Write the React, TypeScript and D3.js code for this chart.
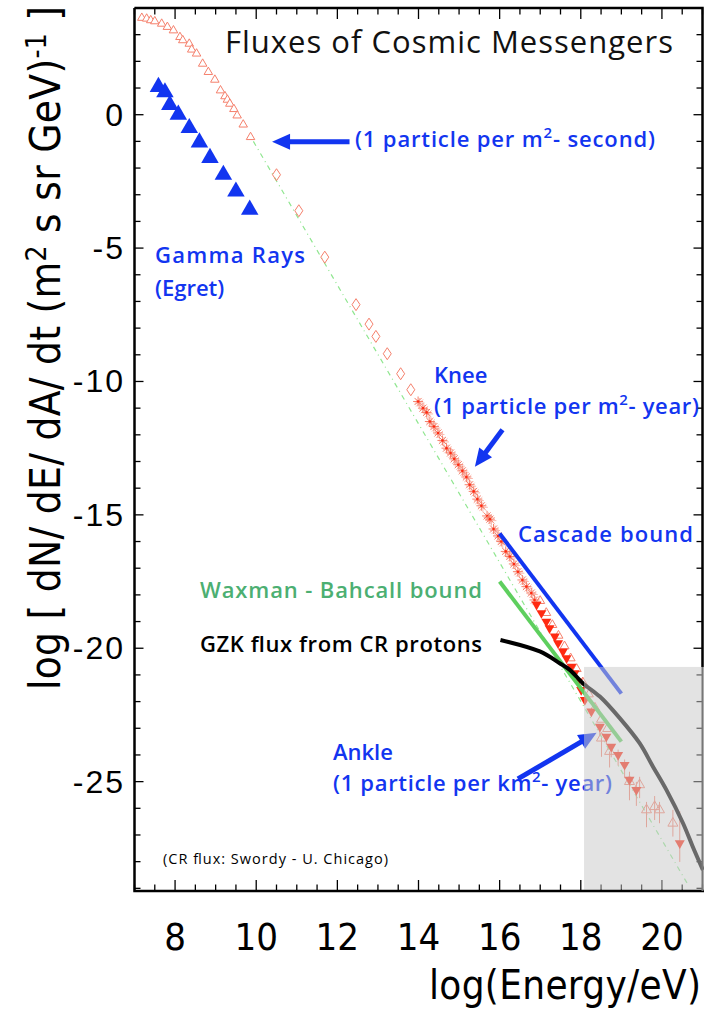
import React from "react";
import * as d3 from "d3";

const W = 704;
const H = 1009;

// ---------- axis ticks ----------
const xTickLabels = [8, 10, 12, 14, 16, 18, 20];
const yTickLabels = [0, -5, -10, -15, -20, -25];

// ---------- data (log E [eV], log flux) ----------
const gammaRays: [number, number][] = [
  [7.59, 1.04], [7.75, 0.84], [7.87, 0.37], [8.08, 0.0], [8.35, -0.5],
  [8.6, -1.04], [8.86, -1.62], [9.19, -2.25], [9.5, -2.88], [9.84, -3.56],
];

const crLowTriangles: [number, number][] = [
  [7.18, 3.63], [7.3, 3.6], [7.4, 3.54], [7.5, 3.5], [7.67, 3.41], [7.81, 3.29],
  [7.96, 3.16], [8.12, 2.91], [8.19, 2.79], [8.35, 2.66], [8.41, 2.44], [8.53, 2.29],
  [8.68, 1.91], [8.82, 1.6], [8.98, 1.31], [9.12, 0.91], [9.23, 0.69], [9.29, 0.56],
  [9.35, 0.41], [9.45, 0.21], [9.53, -0.03], [9.68, -0.37], [9.86, -0.84],
];

const crDiamonds: [number, number][] = [
  [10.5, -2.25], [11.05, -3.6], [11.69, -5.34], [12.46, -7.12], [12.78, -7.85],
  [12.95, -8.31], [13.23, -8.96], [13.56, -9.71], [13.81, -10.31],
];

const crStars: [number, number][] = [
  [13.99, -10.75], [14.11, -11.0], [14.2, -11.16], [14.28, -11.5], [14.38, -11.69],
  [14.48, -11.93], [14.59, -12.21], [14.69, -12.5], [14.79, -12.68], [14.88, -12.9],
  [14.98, -13.12], [15.08, -13.35], [15.18, -13.58], [15.26, -13.87], [15.36, -14.12],
  [15.45, -14.41], [15.55, -14.66], [15.69, -15.04], [15.76, -15.16], [15.85, -15.53],
  [15.96, -15.79], [16.04, -16.0], [16.15, -16.37], [16.25, -16.56], [16.35, -16.84],
  [16.45, -17.13], [16.56, -17.44], [16.66, -17.69], [16.78, -17.93], [16.86, -18.19],
];

const crOverlapOpen: [number, number][] = [
  [16.95, -18.3], [17.1, -18.75], [17.25, -19.2], [17.4, -19.6], [17.55, -20.0],
  [17.7, -20.45], [17.85, -20.85], [18.0, -21.35], [18.15, -21.8], [18.3, -22.3],
  [18.45, -22.75], [18.6, -23.1],
];

// [logE, logFlux, errLow, errHigh]
const crFilledTri: [number, number, number, number][] = [
  [16.91, -18.37, 0, 0], [17.03, -18.68, 0, 0], [17.15, -19.0, 0, 0], [17.23, -19.25, 0, 0],
  [17.36, -19.56, 0, 0], [17.44, -19.81, 0, 0], [17.56, -20.12, 0, 0], [17.65, -20.37, 0, 0],
  [17.77, -20.69, 0, 0], [17.85, -20.93, 0, 0], [17.93, -21.25, 0, 0], [18.01, -21.56, 0, 0],
  [18.1, -21.94, 0, 0], [18.26, -22.37, 0, 0], [18.47, -22.94, 0.3, 0], [18.63, -23.31, 0.3, 0],
  [18.75, -23.69, 0.4, 0], [18.92, -24.0, 0.4, 0.2], [19.08, -24.37, 0.5, 0.2],
  [19.2, -24.93, 0.6, 0.3], [19.37, -25.31, 0.6, 0.3], [20.44, -27.31, 0.7, 1.2],
];

const crHighOpenTri: [number, number, number, number][] = [
  [18.51, -23.37, 0.7, 0], [18.71, -23.87, 0.6, 0], [19.2, -25.0, 0.7, 0.2],
  [19.45, -25.12, 0.5, 0.3], [19.62, -26.06, 0.65, 0.3], [19.82, -25.94, 0.5, 0.4],
  [19.94, -26.06, 0.5, 0.3], [20.27, -26.56, 0.5, 0.5],
];

const crFitLine: [number, number][] = [[9.93, -1.0], [20.63, -28.83]];
const cascadeBound: [number, number][] = [[16.0, -15.7], [19.0, -21.7]];
const waxmanBahcall: [number, number][] = [[16.0, -17.5], [19.0, -23.5]];
const gzkFlux: [number, number][] = [
  [16.02, -19.69], [16.99, -20.12], [17.48, -20.56], [17.73, -20.81], [18.05, -21.31],
  [18.47, -21.81], [18.96, -22.62], [19.45, -23.56], [19.78, -24.44], [20.11, -25.31],
  [20.52, -26.56], [20.76, -27.44], [21.01, -28.31],
];

const grayBox = { x0: 18.08, y0: -20.7 };

const arrows: { tail: [number, number]; tip: [number, number] }[] = [
  { tail: [12.3, -1.01], tip: [10.39, -1.01] },
  { tail: [16.07, -11.81], tip: [15.39, -13.2] },
  { tail: [16.45, -24.9], tip: [18.39, -23.17] },
];

const BLUE = "#1235f0";
const SALMON = "#f5806c";
const RED = "#ff2a12";
const GREEN_LINE = "#5ecf5e";
const GREEN_TEXT = "#4caf72";
const NARROW = "'Liberation Sans Narrow', 'Arial Narrow', 'DejaVu Sans Condensed', sans-serif";
const HUMAN = "'Open Sans', 'Lato', sans-serif";

function upTri(cx: number, cy: number, s: number) {
  return `M${cx},${cy - s * 0.577}L${cx + s / 2},${cy + s * 0.289}L${cx - s / 2},${cy + s * 0.289}Z`;
}
function downTri(cx: number, cy: number, s: number) {
  return `M${cx},${cy + s * 0.577}L${cx + s / 2},${cy - s * 0.289}L${cx - s / 2},${cy - s * 0.289}Z`;
}
function diamond(cx: number, cy: number, w: number, h: number) {
  return `M${cx},${cy - h / 2}L${cx + w / 2},${cy}L${cx},${cy + h / 2}L${cx - w / 2},${cy}Z`;
}
function star(cx: number, cy: number, r: number) {
  let p = "";
  for (let i = 0; i < 4; i++) {
    const a = (i * Math.PI) / 4;
    p += `M${cx - r * Math.cos(a)},${cy - r * Math.sin(a)}L${cx + r * Math.cos(a)},${cy + r * Math.sin(a)}`;
  }
  return p;
}

export default function App() {
  const x = d3.scaleLinear().domain([7, 21]).range([134.5, 702.5]);
  const y = d3.scaleLinear().domain([-29.1, 4]).range([891, 8]);
  const line = d3.line<[number, number]>().x((d) => x(d[0])).y((d) => y(d[1]));
  const smooth = d3
    .line<[number, number]>()
    .x((d) => x(d[0]))
    .y((d) => y(d[1]))
    .curve(d3.curveCatmullRom);

  const [x0, x1] = x.range();
  const yTop = y.range()[1];
  const yBot = y.range()[0];

  const xMinor = d3.range(7, 21.01, 0.5);
  const yMinor = d3.range(-29, 4.01, 1);

  const arrowEls = arrows.map((a, i) => {
    const tx = x(a.tip[0]);
    const ty = y(a.tip[1]);
    const sx = x(a.tail[0]);
    const sy = y(a.tail[1]);
    const L = Math.hypot(tx - sx, ty - sy);
    const ux = (tx - sx) / L;
    const uy = (ty - sy) / L;
    const hl = 18;
    const hw = 8;
    const bx = tx - ux * hl;
    const by = ty - uy * hl;
    const head = `M${tx},${ty}L${bx - uy * hw},${by + ux * hw}L${bx + uy * hw},${by - ux * hw}Z`;
    return (
      <g key={i}>
        <line x1={sx} y1={sy} x2={bx + ux * 2} y2={by + uy * 2} stroke={BLUE} strokeWidth={5} />
        <path d={head} fill={BLUE} />
      </g>
    );
  });

  return (
    <svg
      width={W}
      height={H}
      style={{ position: "absolute", left: 0, top: 0, background: "#fff" }}
    >
      <rect x={0} y={0} width={W} height={H} fill="#fff" />

      {/* ticks */}
      <g stroke="#000" strokeWidth={1.3}>
        {xMinor.map((v) => {
          const major = Math.abs(v % 2) < 1e-6;
          const len = major ? 11 : 6.5;
          return (
            <g key={"xt" + v}>
              <line x1={x(v)} x2={x(v)} y1={yBot} y2={yBot - len} />
              <line x1={x(v)} x2={x(v)} y1={yTop} y2={yTop + len} />
            </g>
          );
        })}
        {yMinor.map((v) => {
          const major = Math.abs(v % 5) < 1e-6;
          const len = major ? 9 : 6;
          return (
            <g key={"yt" + v}>
              <line x1={x0} x2={x0 + len} y1={y(v)} y2={y(v)} />
              <line x1={x1} x2={x1 - len} y1={y(v)} y2={y(v)} />
            </g>
          );
        })}
      </g>

      {/* CR power-law fit */}
      <path
        d={line(crFitLine) || ""}
        fill="none"
        stroke="#8fe68f"
        strokeWidth={1.2}
        strokeDasharray="5 4 1 4"
      />

      {/* gamma rays */}
      {gammaRays.map((d, i) => (
        <path key={"g" + i} d={upTri(x(d[0]), y(d[1]), 17.5)} fill={BLUE} />
      ))}

      {/* cosmic rays low energy open triangles */}
      {crLowTriangles.map((d, i) => (
        <path key={"lt" + i} d={upTri(x(d[0]), y(d[1]), 8.5)} fill="#fff" stroke={SALMON} strokeWidth={1} />
      ))}
      {crDiamonds.map((d, i) => (
        <path key={"dm" + i} d={diamond(x(d[0]), y(d[1]), 8, 12)} fill="none" stroke={SALMON} strokeWidth={1} />
      ))}
      {crStars.map((d, i) => (
        <g key={"st" + i}>
          <path d={star(x(d[0]) + 1.5, y(d[1]) + 1.5, 5)} stroke={SALMON} strokeWidth={0.8} fill="none" opacity={0.7} />
          <path d={star(x(d[0]), y(d[1]), 5)} stroke={SALMON} strokeWidth={1} fill="none" />
          <circle cx={x(d[0])} cy={y(d[1])} r={1.3} fill={RED} />
        </g>
      ))}

      {/* error bars */}
      {[...crFilledTri, ...crHighOpenTri]
        .filter((d) => d[2] > 0 || d[3] > 0)
        .map((d, i) => (
          <line
            key={"eb" + i}
            x1={x(d[0])}
            x2={x(d[0])}
            y1={y(d[1] + d[3])}
            y2={y(d[1] - d[2])}
            stroke={SALMON}
            strokeWidth={1}
          />
        ))}

      {crOverlapOpen.map((d, i) => (
        <path key={"oo" + i} d={upTri(x(d[0]) + 2, y(d[1]) - 2, 9)} fill="none" stroke={SALMON} strokeWidth={1} />
      ))}
      {crHighOpenTri.map((d, i) => (
        <path key={"ho" + i} d={upTri(x(d[0]), y(d[1]), 10)} fill="none" stroke={SALMON} strokeWidth={1} />
      ))}
      {crFilledTri.map((d, i) => (
        <path key={"ft" + i} d={downTri(x(d[0]), y(d[1]), 10)} fill={RED} />
      ))}

      {/* model bounds */}
      <path d={line(cascadeBound) || ""} stroke={BLUE} strokeWidth={4} fill="none" />
      <path d={line(waxmanBahcall) || ""} stroke={GREEN_LINE} strokeWidth={4} fill="none" />
      <path d={smooth(gzkFlux) || ""} stroke="#000" strokeWidth={4} fill="none" strokeLinejoin="round" />

      {/* arrows */}
      {arrowEls}

      {/* texts */}
      <text x={225} y={53} fontFamily={HUMAN} fontSize={31} fill="#111" textLength={448}>
        Fluxes of Cosmic Messengers
      </text>
      <g fontFamily={HUMAN} fontWeight={600} fontSize={22} fill={BLUE}>
        <text x={355} y={147} textLength={300}>
          (1 particle per m<tspan dy={-9} fontSize={15}>2</tspan>
          <tspan dy={9}>- second)</tspan>
        </text>
        <text x={155} y={263} textLength={150}>Gamma Rays</text>
        <text x={155} y={296}>(Egret)</text>
        <text x={434} y={383}>Knee</text>
        <text x={434} y={414} textLength={265}>
          (1 particle per m<tspan dy={-9} fontSize={15}>2</tspan>
          <tspan dy={9}>- year)</tspan>
        </text>
        <text x={518} y={542} textLength={175}>Cascade bound</text>
        <text x={333} y={760}>Ankle</text>
        <text x={333} y={791} textLength={279}>
          (1 particle per km<tspan dy={-9} fontSize={15}>2</tspan>
          <tspan dy={9}>- year)</tspan>
        </text>
      </g>
      <text x={482} y={598} textAnchor="end" fontFamily={HUMAN} fontWeight={600} fontSize={22} fill={GREEN_TEXT} textLength={282}>
        Waxman - Bahcall bound
      </text>
      <text x={482} y={652} textAnchor="end" fontFamily={HUMAN} fontWeight={600} fontSize={22} fill="#000" textLength={282}>
        GZK flux from CR protons
      </text>
      <text x={163} y={864} fontFamily={HUMAN} fontSize={14.5} fill="#000" textLength={225}>
        (CR flux: Swordy - U. Chicago)
      </text>

      {/* gray region overlay */}
      <rect
        x={x(grayBox.x0)}
        y={y(grayBox.y0)}
        width={x1 + 1.5 - x(grayBox.x0)}
        height={yBot - 1.2 - y(grayBox.y0)}
        fill="rgb(202,202,202)"
        opacity={0.52}
      />

      {/* frame */}
      <path
        d={`M${x0},${yTop}L${x1},${yTop}L${x1},${y(grayBox.y0)}M${x0},${yTop}L${x0},${yBot}L${x1 + 1.5},${yBot}`}
        fill="none"
        stroke="#000"
        strokeWidth={2.5}
      />
      <line x1={x1} x2={x1} y1={y(grayBox.y0)} y2={yBot} stroke="#777" strokeWidth={2} />

      {/* axis labels */}
      <g fontFamily="'Liberation Sans', Arial, sans-serif" fontSize={32} fill="#000">
        {yTickLabels.map((v) => (
          <text key={"yl" + v} x={125} y={y(v)} textAnchor="end" dominantBaseline="central" letterSpacing={2}>
            {v}
          </text>
        ))}
      </g>
      <g fontFamily={NARROW} fontSize={38} fill="#000">
        {xTickLabels.map((v) => (
          <text key={"xl" + v} x={x(v)} y={950} textAnchor="middle">
            {v}
          </text>
        ))}
      </g>
      <text x={701} y={999} textAnchor="end" fontFamily={NARROW} fontSize={40} fill="#000" textLength={272}>
        log(Energy/eV)
      </text>
      <text
        transform="translate(60,348) rotate(-90)"
        textAnchor="middle"
        fontFamily={NARROW}
        fontSize={42}
        fill="#000"
        textLength={684}
      >
        log [ dN/ dE/ dA/ dt (m<tspan dy={-14} fontSize={28}>2</tspan>
        <tspan dy={14}> s sr GeV)</tspan>
        <tspan dy={-14} fontSize={28}>-1</tspan>
        <tspan dy={14}> ]</tspan>
      </text>
    </svg>
  );
}
